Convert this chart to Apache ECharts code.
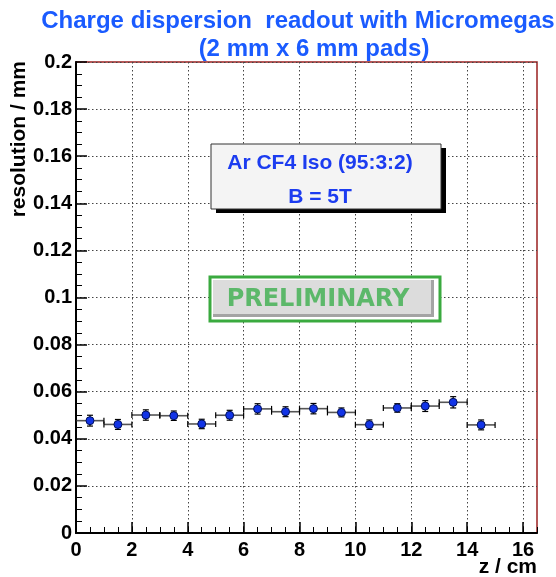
<!DOCTYPE html>
<html>
<head>
<meta charset="utf-8">
<script src="https://cdn.jsdelivr.net/npm/echarts@6/dist/echarts.min.js"></script>
<style>
  html, body { margin: 0; padding: 0; background: #fff; }
  #chart { width: 556px; height: 577px; }
</style>
</head>
<body>
<div id="chart"></div>
<script>
// z bin centres (cm), bin half-width, measured resolution (mm) and its error
const zCenters = [0.5, 1.5, 2.5, 3.5, 4.5, 5.5, 6.5, 7.5, 8.5, 9.5, 10.5, 11.5, 12.5, 13.5, 14.5];
const zHalfWidth = [0.5, 0.5, 0.5, 0.5, 0.5, 0.5, 0.5, 0.5, 0.5, 0.5, 0.5, 0.5, 0.5, 0.5, 0.5];
const resolution = [0.0477, 0.0461, 0.0501, 0.0498, 0.0463, 0.0500, 0.0527, 0.0515, 0.0528, 0.0512, 0.0460, 0.0531, 0.0539, 0.0555, 0.0459];
const resolutionErr = [0.0023, 0.0021, 0.0022, 0.0020, 0.0020, 0.0021, 0.0022, 0.0021, 0.0022, 0.0019, 0.0020, 0.0018, 0.0023, 0.0024, 0.0021];

// axis tick values
const xTicks = [0, 2, 4, 6, 8, 10, 12, 14, 16];
const yTicks = [0, 0.02, 0.04, 0.06, 0.08, 0.1, 0.12, 0.14, 0.16, 0.18, 0.2];

const titleLines = ['Charge dispersion  readout with Micromegas', '(2 mm x 6 mm pads)'];
const infoLines = ['Ar CF4 Iso (95:3:2)', 'B = 5T'];

const FONT = '"Liberation Sans", Arial, Helvetica, sans-serif';
const TITLE_BLUE = '#1a5bff';
const INFO_BLUE = '#1c3cf0';

const points = zCenters.map((z, i) => [z, resolution[i], zHalfWidth[i], resolutionErr[i]]);

const chart = echarts.init(document.getElementById('chart'), null, { renderer: 'canvas' });

const dotted = { color: '#444', width: 1, type: [1.5, 2.5] };

chart.setOption({
  animation: false,
  backgroundColor: '#ffffff',
  grid: {
    left: 76, top: 62, width: 461, height: 471,
    show: true, borderColor: '#9a2020', borderWidth: 1.5, backgroundColor: 'transparent'
  },
  xAxis: [
    {
      type: 'value', min: 0, max: 16.5, interval: 2,
      axisLine: { show: true, lineStyle: { color: '#000', width: 2 } },
      axisTick: { show: true, inside: true, length: 11, customValues: xTicks, lineStyle: { color: '#000', width: 1.5 } },
      axisLabel: {
        show: true, customValues: xTicks, margin: 7,
        color: '#000', fontFamily: FONT, fontWeight: 'bold', fontSize: 20
      },
      splitLine: { show: true, lineStyle: dotted }
    },
    {
      // minor ticks every 0.5 cm
      type: 'value', min: 0, max: 16.5, interval: 0.5, position: 'bottom', gridIndex: 0,
      axisLine: { show: false },
      axisTick: { show: true, inside: true, length: 6, lineStyle: { color: '#000', width: 1 } },
      axisLabel: { show: false },
      splitLine: { show: false }
    }
  ],
  yAxis: {
    type: 'value', min: 0, max: 0.2, interval: 0.02,
    axisLine: { show: true, lineStyle: { color: '#000', width: 2 } },
    axisTick: { show: true, inside: true, length: 11, customValues: yTicks, lineStyle: { color: '#000', width: 1.5 } },
    minorTick: { show: true, splitNumber: 4, length: 6, lineStyle: { color: '#000', width: 1 } },
    axisLabel: {
      show: true, customValues: yTicks, margin: 4,
      color: '#000', fontFamily: FONT, fontWeight: 'bold', fontSize: 20,
      formatter: v => String(Math.round(v * 1000) / 1000)
    },
    splitLine: { show: true, lineStyle: dotted }
  },
  series: [
    {
      // horizontal bin-width bars and vertical error bars
      type: 'custom',
      xAxisIndex: 0, yAxisIndex: 0,
      data: points,
      z: 3,
      renderItem: function (params, api) {
        const x = api.value(0), y = api.value(1), hw = api.value(2), e = api.value(3);
        const left = api.coord([x - hw, y]);
        const right = api.coord([x + hw, y]);
        const top = api.coord([x, y + e]);
        const bot = api.coord([x, y - e]);
        const cap = 3, endH = 3;
        const hStyle = { stroke: '#555', lineWidth: 1.6 };
        const vStyle = { stroke: '#000', lineWidth: 1.2 };
        return {
          type: 'group',
          children: [
            { type: 'line', shape: { x1: left[0], y1: left[1], x2: right[0], y2: right[1] }, style: hStyle },
            { type: 'line', shape: { x1: left[0], y1: left[1] - endH, x2: left[0], y2: left[1] + endH }, style: vStyle },
            { type: 'line', shape: { x1: right[0], y1: right[1] - endH, x2: right[0], y2: right[1] + endH }, style: vStyle },
            { type: 'line', shape: { x1: top[0], y1: top[1], x2: bot[0], y2: bot[1] }, style: vStyle },
            { type: 'line', shape: { x1: top[0] - cap, y1: top[1], x2: top[0] + cap, y2: top[1] }, style: vStyle },
            { type: 'line', shape: { x1: bot[0] - cap, y1: bot[1], x2: bot[0] + cap, y2: bot[1] }, style: vStyle }
          ]
        };
      }
    },
    {
      type: 'scatter',
      xAxisIndex: 0, yAxisIndex: 0,
      data: points.map(p => [p[0], p[1]]),
      symbol: 'circle', symbolSize: 8,
      itemStyle: { color: '#1234e6', borderColor: '#00105a', borderWidth: 1, opacity: 1 },
      z: 4
    }
  ],
  graphic: [
    // title
    { type: 'text', x: 298, y: 21, style: { text: titleLines[0], align: 'center', verticalAlign: 'middle', fill: TITLE_BLUE, font: 'bold 24px ' + FONT } },
    { type: 'text', x: 314, y: 49, style: { text: titleLines[1], align: 'center', verticalAlign: 'middle', fill: TITLE_BLUE, font: 'bold 24px ' + FONT } },
    // axis titles
    { type: 'text', x: 19, y: 61, rotation: Math.PI / 2, style: { text: 'resolution / mm', align: 'right', verticalAlign: 'middle', fill: '#000', font: 'bold 21px ' + FONT } },
    { type: 'text', x: 537, y: 567, style: { text: 'z / cm', align: 'right', verticalAlign: 'middle', fill: '#000', font: 'bold 21px ' + FONT } },
    // gas / field info box with shadow
    { type: 'rect', shape: { x: 216, y: 148, width: 230, height: 65 }, style: { fill: '#000' }, z: 10 },
    { type: 'rect', shape: { x: 211, y: 144, width: 230, height: 65 }, style: { fill: '#f4f4f4', stroke: '#333', lineWidth: 1 }, z: 11 },
    { type: 'text', x: 320, y: 163, z: 12, style: { text: infoLines[0], align: 'center', verticalAlign: 'middle', fill: INFO_BLUE, font: 'bold 21px ' + FONT } },
    { type: 'text', x: 320, y: 197, z: 12, style: { text: infoLines[1], align: 'center', verticalAlign: 'middle', fill: INFO_BLUE, font: 'bold 21px ' + FONT } },
    // PRELIMINARY stamp
    { type: 'rect', shape: { x: 210, y: 277, width: 230, height: 44 }, style: { fill: '#fff', stroke: '#3aaa3f', lineWidth: 3 }, z: 10 },
    { type: 'rect', shape: { x: 213, y: 280, width: 221, height: 37 }, style: { fill: '#a4a4a4' }, z: 11 },
    { type: 'rect', shape: { x: 213, y: 280, width: 218, height: 34 }, style: { fill: '#dcdcdc' }, z: 12 },
    { type: 'text', x: 318, y: 300, z: 13, style: { text: 'PRELIMINARY', align: 'center', verticalAlign: 'middle', fill: '#5cb86a', font: 'bold 24px "DejaVu Sans", sans-serif' } }
  ]
});
</script>
</body>
</html>
